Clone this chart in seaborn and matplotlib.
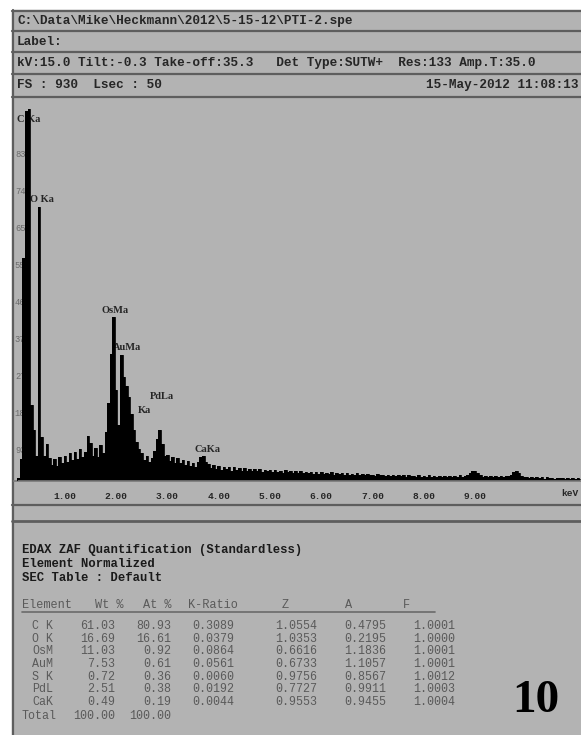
import numpy as np
import pandas as pd
import seaborn as sns
import matplotlib.pyplot as plt
from matplotlib.patches import Rectangle

# spectrum counts, one value per 0.05 keV channel starting at 0.00 keV
channel_kev = 0.05
counts = [
    0, 0, 8, 55, 560, 930, 936, 190, 128, 62,
    688, 110, 62, 92, 58, 40, 56, 38, 60, 44,
    62, 48, 70, 52, 74, 56, 80, 60, 72, 112,
    96, 62, 84, 60, 90, 70, 122, 195, 320, 412,
    230, 140, 316, 262, 238, 212, 168, 128, 98, 80,
    70, 52, 62, 48, 58, 76, 106, 128, 92, 64,
    66, 50, 60, 46, 58, 44, 52, 40, 50, 38,
    46, 36, 48, 60, 64, 48, 42, 32, 40, 30,
    38, 28, 36, 30, 35, 26, 34, 27, 33, 25,
    32, 25, 31, 24, 30, 26, 29, 23, 28, 24,
    28, 22, 27, 23, 26, 21, 27, 22, 25, 20,
    25, 20, 24, 19, 23, 20, 22, 18, 23, 18,
    22, 17, 21, 18, 22, 16, 20, 17, 19, 16,
    19, 15, 18, 16, 19, 14, 17, 15, 17, 14,
    16, 13, 17, 14, 15, 12, 16, 13, 15, 12,
    15, 12, 14, 11, 15, 12, 13, 11, 14, 11,
    13, 11, 14, 10, 13, 11, 13, 10, 12, 11,
    13, 10, 12, 11, 14, 11, 13, 15, 21, 25,
    24, 20, 14, 11, 12, 9, 12, 10, 12, 9,
    12, 10, 13, 12, 16, 22, 24, 20, 13, 10,
    10, 8, 10, 7, 9, 8, 9, 6, 9, 7,
    8, 6, 8, 7, 8, 6, 7, 6, 8, 6,
    7, 6,
]

peak_labels = ['C Ka', 'O Ka', 'OsMa', 'AuMa', 'PdLa', 'Ka', 'CaKa']
peak_label_kev = [0.07, 0.32, 1.71, 1.94, 2.66, 2.43, 3.52]
peak_label_cts = [909, 708, 429, 336, 213, 176, 80]

y_ticks = [93, 186, 279, 372, 465, 558, 651, 744, 837]
x_ticks = [1, 2, 3, 4, 5, 6, 7, 8, 9]

header_lines = [
    r'C:\Data\Mike\Heckmann\2012\5-15-12\PTI-2.spe',
    'Label:',
    'kV:15.0 Tilt:-0.3 Take-off:35.3   Det Type:SUTW+  Res:133 Amp.T:35.0',
    'FS : 930  Lsec : 50',
]
acq_date = '15-May-2012 11:08:13'

elements = ['C K', 'O K', 'OsM', 'AuM', 'S K', 'PdL', 'CaK']
wt_pct = ['61.03', '16.69', '11.03', '7.53', '0.72', '2.51', '0.49']
at_pct = ['80.93', '16.61', '0.92', '0.61', '0.36', '0.38', '0.19']
k_ratio = ['0.3089', '0.0379', '0.0864', '0.0561', '0.0060', '0.0192', '0.0044']
z_corr = ['1.0554', '1.0353', '0.6616', '0.6733', '0.9756', '0.7727', '0.9553']
a_corr = ['0.4795', '0.2195', '1.1836', '1.1057', '0.8567', '0.9911', '0.9455']
f_corr = ['1.0001', '1.0000', '1.0001', '1.0001', '1.0012', '1.0003', '1.0004']

df = pd.DataFrame({'keV': np.arange(len(counts)) * channel_kev, 'counts': counts})

sns.set_style('white')
plt.rcParams['font.family'] = ['Liberation Mono', 'DejaVu Sans Mono']

W, H = 581, 735
gray = '#b3b3b3'
line = '#5e5e5e'
fig = plt.figure(figsize=(W / 100, H / 100), dpi=100)
fig.patch.set_facecolor('white')

# page layer in pixel coordinates
bg = fig.add_axes([0, 0, 1, 1])
bg.set_xlim(0, W)
bg.set_ylim(H, 0)
bg.axis('off')
bg.add_patch(Rectangle((12, 10), W - 12, H - 10, color=gray, zorder=0))
bg.plot([12.5, 12.5], [10, H], color=line, lw=1.6)
for yy in [10.5, 31, 52, 74, 96.5]:
    bg.plot([12, W], [yy, yy], color=line, lw=1.6)
bg.plot([12, W], [505, 505], color=line, lw=1.6)
bg.plot([12, W], [521, 521], color=line, lw=2)

row_y = [21, 42, 63, 85]
for txt, yy in zip(header_lines, row_y):
    bg.text(17, yy, txt, fontsize=9.2, fontweight='bold', va='center', ha='left')
bg.text(579, row_y[3], acq_date, fontsize=9.2, fontweight='bold', va='center', ha='right')

# quantification table
for txt, yy in zip(['EDAX ZAF Quantification (Standardless)', 'Element Normalized',
                    'SEC Table : Default'], [550, 564, 578]):
    bg.text(22, yy, txt, fontsize=8.8, fontweight='bold', va='center', color='#1a1a1a')
tcol = '#5a5a5a'
heads = [('Element', 22), ('Wt %', 95), ('At %', 143), ('K-Ratio', 188),
         ('Z', 282), ('A', 345), ('F', 403)]
for txt, xx in heads:
    bg.text(xx, 605, txt, fontsize=8.6, va='center', color=tcol)
bg.plot([22, 435], [612, 612], color='#6a6a6a', lw=1.2)
row_ys = [626, 639, 651, 664, 677, 689, 702]
col_right = [115, 171, 234, 317, 386, 455]
for i, yy in enumerate(row_ys):
    bg.text(32, yy, elements[i], fontsize=8.4, va='center', color=tcol)
    vals = [wt_pct[i], at_pct[i], k_ratio[i], z_corr[i], a_corr[i], f_corr[i]]
    for v, xr in zip(vals, col_right):
        bg.text(xr, yy, v, fontsize=8.4, va='center', ha='right', color=tcol)
bg.text(22, 716, 'Total', fontsize=8.4, va='center', color=tcol)
bg.text(col_right[0], 716, '100.00', fontsize=8.4, va='center', ha='right', color=tcol)
bg.text(col_right[1], 716, '100.00', fontsize=8.4, va='center', ha='right', color=tcol)
bg.text(536, 701, '10', fontsize=34, fontweight='bold', family='Liberation Serif',
        ha='center', va='center', color='black')

# spectrum axes
x0_px, px_per_kev = 13.5, 51.3
y0_px, ytop_px, px_per_ct = 481, 108, 0.3978
ax = fig.add_axes([x0_px / W, (H - y0_px) / H, (W - x0_px) / W, (y0_px - ytop_px) / H])
ax.set_facecolor('none')
ax.set_xlim(0, (W - x0_px) / px_per_kev)
ax.set_ylim(0, (y0_px - ytop_px) / px_per_ct)

for lab, xk, yc in zip(peak_labels, peak_label_kev, peak_label_cts):
    ax.text(xk, yc, lab, fontsize=7.5, fontweight='bold', family='Liberation Serif',
            va='center', ha='left', zorder=1)

ax.fill_between(df['keV'], df['counts'], step='mid', color='black', lw=0, zorder=2)
sns.lineplot(data=df, x='keV', y='counts', drawstyle='steps-mid', color='black',
             lw=0.6, ax=ax, zorder=3)

for s in ['top', 'right', 'left']:
    ax.spines[s].set_visible(False)
ax.spines['bottom'].set_color('#7a7a7a')
ax.spines['bottom'].set_linewidth(1.2)

ax.set_xticks(x_ticks)
ax.set_xticklabels([f'{t:.2f}' for t in x_ticks], fontsize=6.8, fontweight='bold')
ax.tick_params(axis='x', direction='out', length=3, color='#6a6a6a', pad=5)
ax.set_yticks(y_ticks)
ax.set_yticklabels([])
ax.tick_params(axis='y', direction='in', length=7, color='#8a8a8a', width=1)
for t in y_ticks:
    ax.annotate(str(t), xy=(0, t), xycoords=('axes fraction', 'data'),
                xytext=(1.0, -5), textcoords='offset points', fontsize=6.3,
                color='#6a6a6a', va='center', ha='left', zorder=1)
ax.annotate('keV', xy=(1, 0), xycoords='axes fraction', xytext=(-14, -9),
            textcoords='offset points', fontsize=6.8, fontweight='bold',
            va='center', ha='left', annotation_clip=False)
ax.set_xlabel('')
ax.set_ylabel('')

fig.savefig('out.png', dpi=100, facecolor='white')
